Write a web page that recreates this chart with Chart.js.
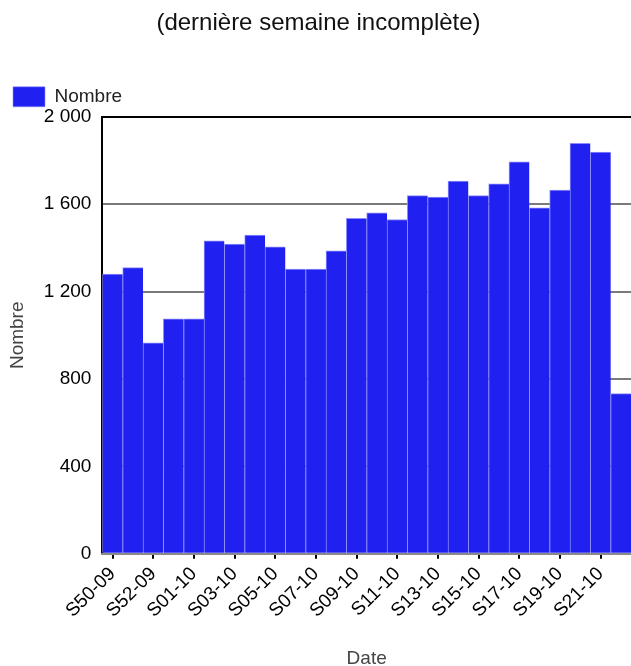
<!DOCTYPE html>
<html lang="fr">
<head>
<meta charset="utf-8">
<title>Nombre par semaine</title>
<script src="https://cdn.jsdelivr.net/npm/chart.js@4/dist/chart.umd.min.js"></script>
<style>
  html, body { margin: 0; padding: 0; background: #fff; }
  #wrap { width: 631px; height: 666px; }
</style>
</head>
<body>
<div id="wrap"><canvas id="chart"></canvas></div>
<script>
// semaines (S50-09 ... S22-10)
var semaines = ['S50-09', 'S51-09', 'S52-09', 'S53-09',
  'S01-10', 'S02-10', 'S03-10', 'S04-10', 'S05-10', 'S06-10', 'S07-10', 'S08-10',
  'S09-10', 'S10-10', 'S11-10', 'S12-10', 'S13-10', 'S14-10', 'S15-10', 'S16-10',
  'S17-10', 'S18-10', 'S19-10', 'S20-10', 'S21-10', 'S22-10'];

var nombre = [1280, 1310, 966, 1075,
  1075, 1432, 1417, 1459, 1405, 1303, 1303, 1387,
  1535, 1561, 1530, 1639, 1633, 1706, 1639, 1693,
  1794, 1583, 1665, 1879, 1839, 733];

var yTicks = [0, 400, 800, 1200, 1600, 2000];

var police = '"Liberation Sans", Arial, sans-serif';

function formatNombre(v) {
  return String(v).replace(/\B(?=(\d{3})+(?!\d))/g, ' ');
}

var ctx = document.getElementById('chart').getContext('2d');
new Chart(ctx, {
  type: 'bar',
  data: {
    labels: semaines,
    datasets: [{
      label: 'Nombre',
      data: nombre,
      backgroundColor: '#2020f0',
      borderColor: '#8c8cff',
      borderWidth: { top: 1, left: 1, right: 0, bottom: 0 },
      barPercentage: 1,
      categoryPercentage: 1
    }]
  },
  options: {
    responsive: true,
    maintainAspectRatio: false,
    animation: false,
    layout: { padding: { left: 6, right: 0, top: 9, bottom: -4 } },
    plugins: {
      tooltip: { enabled: false },
      title: {
        display: true,
        text: '(dernière semaine incomplète)',
        color: '#111',
        font: { family: police, size: 24, weight: 'normal' },
        padding: { top: 0, bottom: 42 }
      },
      legend: {
        position: 'top',
        align: 'start',
        labels: {
          boxWidth: 32,
          boxHeight: 20,
          color: '#222',
          font: { family: police, size: 19 },
          padding: 7
        }
      }
    },
    scales: {
      y: {
        min: 0,
        max: 2000,
        afterBuildTicks: function (axis) {
          axis.ticks = yTicks.map(function (v) { return { value: v }; });
        },
        ticks: {
          color: '#000',
          padding: 11,
          font: { family: police, size: 19 },
          callback: function (v) { return formatNombre(v); }
        },
        grid: {
          drawTicks: false,
          lineWidth: 2,
          color: function (c) {
            return c.tick && c.tick.value === 2000 ? '#000' : '#7a7a7a';
          }
        },
        border: { display: true, color: '#000', width: 2 },
        title: {
          display: true,
          text: 'Nombre',
          color: '#444',
          font: { family: police, size: 19 },
          padding: { top: 0, bottom: 4 }
        }
      },
      x: {
        // pas de marge à droite : la dernière étiquette est vide
        afterFit: function (scale) { scale.paddingRight = 0; },
        ticks: {
          autoSkip: false,
          maxRotation: 45,
          minRotation: 45,
          color: '#000',
          padding: 4,
          font: { family: police, size: 19 },
          callback: function (v, i) { return i % 2 === 0 ? this.getLabelForValue(v) : ''; }
        },
        grid: {
          offset: false,
          drawOnChartArea: false,
          drawTicks: true,
          tickLength: 5,
          lineWidth: 2,
          color: function (c) { return c.index % 2 === 0 ? '#000' : 'rgba(0,0,0,0)'; }
        },
        border: { display: true, color: '#8a8a8a', width: 2 },
        title: {
          display: true,
          text: 'Date',
          color: '#444',
          font: { family: police, size: 19 },
          padding: { top: 21, bottom: 0 }
        }
      }
    }
  }
});
</script>
</body>
</html>
